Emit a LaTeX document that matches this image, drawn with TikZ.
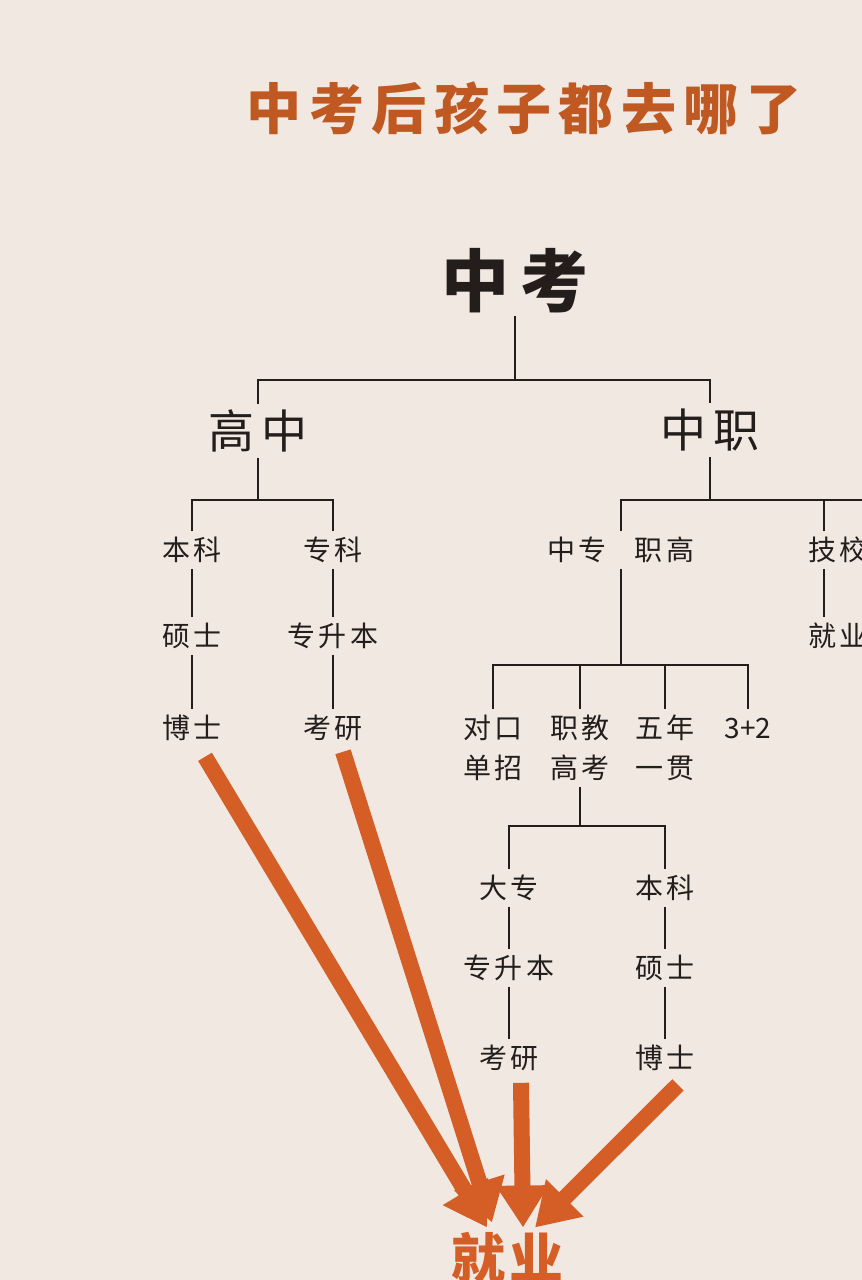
\documentclass[tikz,border=0pt]{standalone}
\usepackage{fontspec}
\newfontfamily\cjk{Noto Sans CJK SC}
\usetikzlibrary{arrows.meta}
\definecolor{bg}{RGB}{240,232,225}
\definecolor{ink}{RGB}{35,30,28}
\definecolor{org}{RGB}{212,94,38}
\definecolor{ttl}{RGB}{192,88,34}
\begin{document}
\begin{tikzpicture}[x=1pt,y=-1pt,
  every node/.style={inner sep=6pt, text=ink},
  lab/.style={font=\cjk\fontsize{28}{40}\selectfont, text height=23pt, text depth=2.2pt},
  labtwo/.style={font=\cjk\fontsize{28}{40}\selectfont, align=center},
  big/.style={font=\cjk\fontsize{46}{50}\selectfont, text height=37.7pt, text depth=3.7pt},
  root/.style={font=\cjk\bfseries\fontsize{68}{70}\selectfont, text height=55.8pt, text depth=5.4pt, inner sep=4pt},
  ttlstyle/.style={font=\cjk\bfseries\fontsize{55}{60}\selectfont, text=ttl},
  jobstyle/.style={font=\cjk\bfseries\fontsize{54}{60}\selectfont, text=org, text height=44.3pt, text depth=4.3pt},
  conn/.style={draw=ink, line width=2.4pt},
  bigarr/.style={draw=org, line width=16pt, -{Triangle[length=42pt,width=50pt]}}
]
\fill[bg] (0,0) rectangle (862,1280);
\useasboundingbox (0,0) rectangle (862,1280);
\clip (0,0) rectangle (862,1280);

% title
\node[ttlstyle] (title) at (524,108) {中\hspace{7.4pt}考\hspace{7.4pt}后\hspace{7.4pt}孩\hspace{7.4pt}子\hspace{7.4pt}都\hspace{7.4pt}去\hspace{7.4pt}哪\hspace{7.4pt}了};

% nodes
\node[root] (zk) at (515,281) {中\hspace{12pt}考};
\node[big] (gz) at (258,431) {高\hspace{8pt}中};
\node[big] (zz) at (710,430) {中\hspace{7pt}职};

\node[lab] (bka) at (192,550) {本\hspace{4pt}科};
\node[lab] (zka) at (333,550) {专\hspace{4pt}科};
\node[lab] (ssa) at (192,636) {硕\hspace{4pt}士};
\node[lab] (zsba) at (333,636) {专\hspace{4pt}升\hspace{4pt}本};
\node[lab] (bsa) at (192,728) {博\hspace{4pt}士};
\node[lab] (kya) at (333,728) {考\hspace{4pt}研};

\node[lab] (zzzg) at (621,550) {中\hspace{4pt}专\hspace{28pt}职\hspace{4pt}高};
\node[lab] (jx) at (838,550) {技\hspace{4pt}校};
\node[lab] (jyr) at (838,636) {就\hspace{4pt}业};

\node[labtwo] (dk) at (493,748) {对\hspace{4pt}口\\单\hspace{4pt}招};
\node[labtwo] (zj) at (580,748) {职\hspace{4pt}教\\高\hspace{4pt}考};
\node[labtwo] (wn) at (665,748) {五\hspace{4pt}年\\一\hspace{4pt}贯};
\node[lab] (sj) at (748,728) {3+2};

\node[lab] (dz) at (509,888) {大\hspace{4pt}专};
\node[lab] (bkb) at (665,888) {本\hspace{4pt}科};
\node[lab] (zsbb) at (509,968) {专\hspace{4pt}升\hspace{4pt}本};
\node[lab] (ssb) at (665,968) {硕\hspace{4pt}士};
\node[lab] (kyb) at (509,1058) {考\hspace{4pt}研};
\node[lab] (bsb) at (665,1058) {博\hspace{4pt}士};

\node[jobstyle] (jy) at (507,1258) {就\hspace{4pt}业};

% junctions
\coordinate (j0) at (515,380);
\coordinate (j1) at (258,500);
\coordinate (j2) at (710,500);
\coordinate (j2r) at (862,500);
\coordinate (j3) at (621,665);
\coordinate (j4) at (580,826);

% tree connectors
\draw[conn] (zk.south) -- (j0);
\draw[conn] (gz.north) |- (j0) -| (zz.north);
\draw[conn] (gz.south) -- (j1);
\draw[conn] (bka.north) |- (j1) -| (zka.north);
\draw[conn] (bka.south) -- (ssa.north);
\draw[conn] (ssa.south) -- (bsa.north);
\draw[conn] (zka.south) -- (zsba.north);
\draw[conn] (zsba.south) -- (kya.north);

\draw[conn] (zz.south) -- (j2);
\draw[conn] (zzzg.north) |- (j2) -- (j2r);
\draw[conn] ([xshift=-14pt]jx.north) -- ([xshift=-14pt]jx.north |- j2);
\draw[conn] ([xshift=-14pt]jx.south) -- ([xshift=-14pt]jyr.north);
\draw[conn] (zzzg.south) -- (j3);
\draw[conn] (dk.north) |- (j3) -| (sj.north);
\draw[conn] (zj.north) -- (zj.north |- j3);
\draw[conn] (wn.north) -- (wn.north |- j3);

\draw[conn] (zj.south) -- (j4);
\draw[conn] (dz.north) |- (j4) -| (bkb.north);
\draw[conn] (dz.south) -- (zsbb.north);
\draw[conn] (zsbb.south) -- (kyb.north);
\draw[conn] (bkb.south) -- (ssb.north);
\draw[conn] (ssb.south) -- (bsb.north);

% big arrows to employment
\draw[bigarr] ([shift={(13pt,-10pt)}]bsa.south) -- ([xshift=-20pt]jy.north);
\draw[bigarr] ([shift={(10pt,-5pt)}]kya.south) -- ([shift={(-15pt,5pt)}]jy.north);
\draw[bigarr] ([shift={(12pt,-6pt)}]kyb.south) -- ([xshift=16pt]jy.north);
\draw[bigarr] ([shift={(13pt,-8pt)}]bsb.south) -- ([xshift=28pt]jy.north);
\end{tikzpicture}
\end{document}
